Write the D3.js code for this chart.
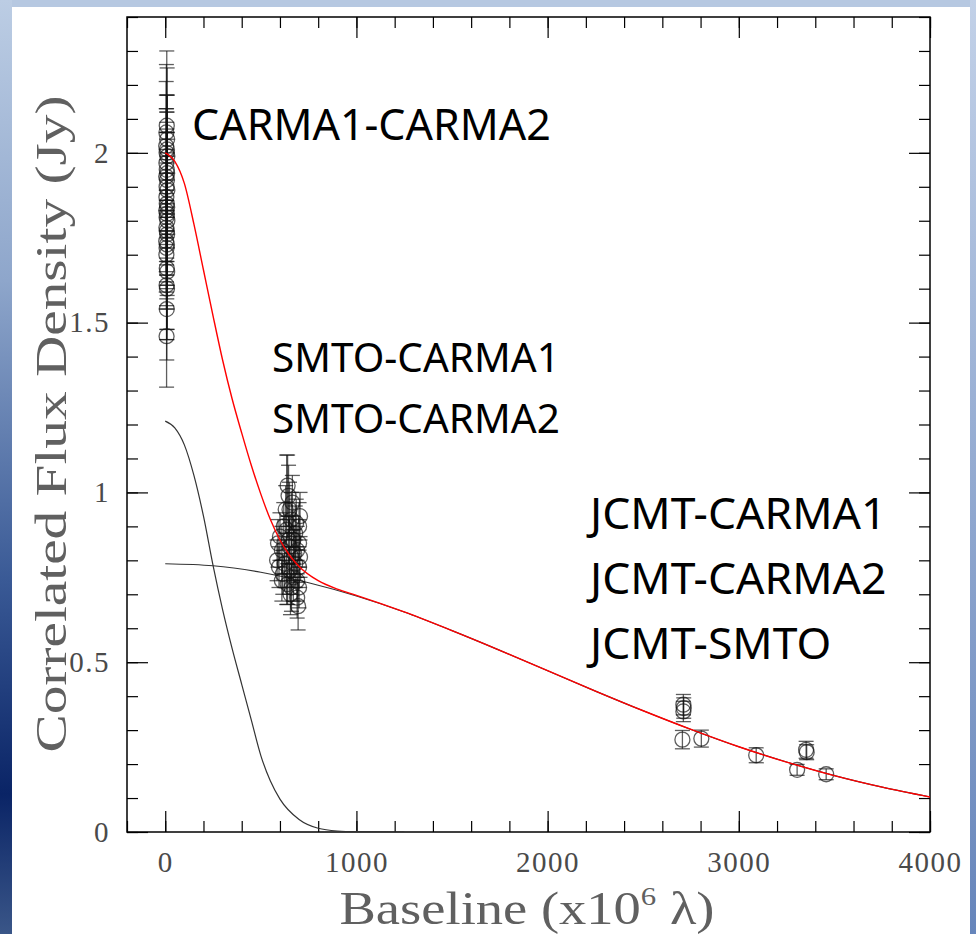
<!DOCTYPE html>
<html>
<head>
<meta charset="utf-8">
<script src="https://cdnjs.cloudflare.com/ajax/libs/d3/7.8.5/d3.min.js"></script>
<style>
body { margin: 0; background: #fff; }
.tick line { stroke: #000; stroke-width: 1.2; }
.tick text { fill: #4a4a4a; }
</style>
</head>
<body>
<svg width="976" height="934"></svg>
<script>
// tick labels
var xTicks = [0, 1000, 2000, 3000, 4000];
var yTicks = [0, 0.5, 1, 1.5, 2];
var yTickLabels = ["0", "0.5", "1", "1.5", "2"];

// visibilities: [baseline, flux, error]
var carmaPts = [
  [8,2.08,0.22],[6,2.06,0.20],[10,2.04,0.21],[5,2.02,0.19],[9,2.01,0.16],[7,2.00,0.12],
  [11,1.99,0.18],[6,1.97,0.20],[8,1.95,0.14],[10,1.94,0.18],[5,1.93,0.20],[9,1.92,0.15],
  [7,1.90,0.23],[11,1.89,0.17],[6,1.87,0.19],[8,1.85,0.21],[10,1.84,0.16],[5,1.83,0.18],
  [9,1.82,0.22],[7,1.81,0.17],[11,1.80,0.19],[6,1.78,0.16],[8,1.77,0.20],[10,1.76,0.18],
  [5,1.74,0.15],[9,1.73,0.19],[7,1.72,0.17],[6,1.70,0.16],[8,1.66,0.18],[10,1.65,0.17],
  [7,1.61,0.16],[9,1.60,0.15],[8,1.54,0.15],[7,1.46,0.15]
];
var smtoPts = [
  [640,1.02,0.09],[645,0.99,0.09],[650,0.95,0.08],[705,0.93,0.07],[700,0.90,0.07],
  [660,0.92,0.08],[620,0.90,0.07],[680,0.88,0.08],[600,0.87,0.07],[590,0.85,0.07],
  [670,0.86,0.07],[700,0.85,0.07],[650,0.84,0.08],[610,0.83,0.07],[690,0.83,0.07],
  [635,0.89,0.22],[585,0.80,0.06],[595,0.78,0.06],[660,0.81,0.07],[705,0.81,0.06],
  [625,0.79,0.07],[680,0.79,0.07],[650,0.77,0.07],[700,0.78,0.06],[615,0.76,0.06],
  [670,0.75,0.07],[690,0.74,0.06],[640,0.73,0.06],[660,0.72,0.07],[700,0.72,0.06],
  [690,0.69,0.06],[695,0.665,0.07],[655,0.70,0.06],[610,0.74,0.06],[675,0.82,0.07],
  [645,0.86,0.07],[685,0.91,0.07],[630,0.95,0.07],[665,0.97,0.08]
];
var jcmtPts = [
  [2710,0.375,0.03],[2710,0.355,0.03],[2712,0.365,0.03],[2705,0.272,0.027],
  [2804,0.275,0.025],[3091,0.226,0.022],[3305,0.183,0.016],[3352,0.242,0.025],
  [3355,0.235,0.022],[3457,0.17,0.016]
];

// model curves
var totalBase = [0,50,100,150,200,250,300,350,400,450,500,550,600,650,700,800,900,1000,1250,1500,1750,2000,2250,2500,2750,3000,3250,3500,3750,4000];
var totalFlux = [2.00,1.975,1.91,1.79,1.655,1.52,1.39,1.275,1.175,1.08,0.995,0.92,0.86,0.815,0.782,0.74,0.715,0.697,0.648,0.593,0.535,0.475,0.415,0.357,0.302,0.251,0.206,0.166,0.132,0.103];
var narrowBase = [0,50,100,150,200,250,300,350,400,450,500,550,600,700,800,900,1000,1250];
var narrowFlux = [1.21,1.19,1.14,1.05,0.93,0.785,0.655,0.54,0.435,0.33,0.225,0.15,0.097,0.037,0.011,0.003,0.001,0];
var broadBase = [0,250,500,750,1000,1250,1500,1750,2000,2250,2500,2750,3000,3250,3500,3750,4000];
var broadFlux = [0.79,0.784,0.765,0.734,0.695,0.648,0.593,0.535,0.475,0.415,0.357,0.302,0.251,0.206,0.166,0.132,0.103];

var labels = ["CARMA1-CARMA2", "SMTO-CARMA1", "SMTO-CARMA2", "JCMT-CARMA1", "JCMT-CARMA2", "JCMT-SMTO"];
var labelAt = [[192,140],[272,372],[272,433],[590,529],[590,594],[590,659]];
var labelSize = [43, 40.5, 40.5, 44.5, 44.5, 44.5];

var svg = d3.select("svg");
var defs = svg.append("defs");

// slide background
var lg = defs.append("linearGradient").attr("id", "leftGrad")
  .attr("x1", 0).attr("y1", 0).attr("x2", 0).attr("y2", 1);
lg.append("stop").attr("offset", "0%").attr("stop-color", "#bccde4");
lg.append("stop").attr("offset", "30%").attr("stop-color", "#8ea6cb");
lg.append("stop").attr("offset", "62%").attr("stop-color", "#3a5a96");
lg.append("stop").attr("offset", "85%").attr("stop-color", "#0a2466");
lg.append("stop").attr("offset", "100%").attr("stop-color", "#3a5688");
var rg = defs.append("linearGradient").attr("id", "rightGrad")
  .attr("x1", 0).attr("y1", 0).attr("x2", 0).attr("y2", 1);
rg.append("stop").attr("offset", "0%").attr("stop-color", "#c2d1e8");
rg.append("stop").attr("offset", "100%").attr("stop-color", "#6685bb");

svg.append("rect").attr("width", 976).attr("height", 934).attr("fill", "#b6c8e1");
svg.append("rect").attr("x", 0).attr("y", 0).attr("width", 12).attr("height", 934).attr("fill", "url(#leftGrad)");
svg.append("rect").attr("x", 970).attr("y", 0).attr("width", 6).attr("height", 934).attr("fill", "url(#rightGrad)");
svg.append("rect").attr("x", 12).attr("y", 7).attr("width", 958).attr("height", 927).attr("fill", "#fff");

var x = d3.scaleLinear().domain([-200, 4000]).range([127, 930]);
var y = d3.scaleLinear().domain([0, 2.4]).range([832, 17]);

defs.append("clipPath").attr("id", "frame")
  .append("rect").attr("x", 127).attr("y", 17).attr("width", 803).attr("height", 815);

// axes, ticks pointing in on all four sides
function addAxis(axis, tx, ty) {
  var g = svg.append("g")
    .attr("transform", "translate(" + tx + "," + ty + ")")
    .call(axis)
    .attr("font-family", "'Liberation Serif', serif")
    .attr("font-size", 29);
  g.select(".domain").remove();
  return g;
}
addAxis(d3.axisBottom(x).tickValues(x.ticks(21)).tickSize(-11).tickFormat(""), 0, 832);
addAxis(d3.axisBottom(x).tickValues(xTicks).tickSizeInner(-21).tickSizeOuter(0)
  .tickPadding(19).tickFormat(d3.format("d")), 0, 832)
  .selectAll("text").attr("letter-spacing", 1.5);
addAxis(d3.axisTop(x).tickValues(x.ticks(21)).tickSize(-11).tickFormat(""), 0, 17);
addAxis(d3.axisTop(x).tickValues(xTicks).tickSize(-21).tickFormat(""), 0, 17);

addAxis(d3.axisLeft(y).tickValues(y.ticks(24)).tickSize(-11).tickFormat(""), 127, 0);
addAxis(d3.axisLeft(y).tickValues(yTicks).tickSizeInner(-21).tickSizeOuter(0)
  .tickPadding(17).tickFormat(function(d, i) { return yTickLabels[i]; }), 127, 0)
  .selectAll("text").attr("letter-spacing", 1.5);
addAxis(d3.axisRight(y).tickValues(y.ticks(24)).tickSize(-11).tickFormat(""), 930, 0);
addAxis(d3.axisRight(y).tickValues(yTicks).tickSize(-21).tickFormat(""), 930, 0);

svg.append("rect")
  .attr("x", 127).attr("y", 17).attr("width", 803).attr("height", 815)
  .attr("fill", "none").attr("stroke", "#000").attr("stroke-width", 1.5);

var plot = svg.append("g").attr("clip-path", "url(#frame)");

// model components
var line = d3.line()
  .x(function(d) { return x(d[0]); })
  .y(function(d) { return y(d[1]); })
  .curve(d3.curveMonotoneX);

plot.append("path")
  .datum(narrowBase.map(function(b, i) { return [b, narrowFlux[i]]; }))
  .attr("d", line).attr("fill", "none").attr("stroke", "#333").attr("stroke-width", 1.2);
plot.append("path")
  .datum(broadBase.map(function(b, i) { return [b, broadFlux[i]]; }))
  .attr("d", line).attr("fill", "none").attr("stroke", "#333").attr("stroke-width", 1.2);

// data points with error bars
function drawPts(pts) {
  var g = plot.append("g").selectAll("g").data(pts).enter().append("g")
    .attr("stroke", "#111").attr("stroke-opacity", 0.68).attr("fill", "none").attr("stroke-width", 1.3);
  g.append("line")
    .attr("x1", function(d) { return x(d[0]); }).attr("x2", function(d) { return x(d[0]); })
    .attr("y1", function(d) { return y(d[1] - d[2]); }).attr("y2", function(d) { return y(d[1] + d[2]); });
  g.append("line")
    .attr("x1", function(d) { return x(d[0]) - 7.5; }).attr("x2", function(d) { return x(d[0]) + 7.5; })
    .attr("y1", function(d) { return y(d[1] + d[2]); }).attr("y2", function(d) { return y(d[1] + d[2]); });
  g.append("line")
    .attr("x1", function(d) { return x(d[0]) - 7.5; }).attr("x2", function(d) { return x(d[0]) + 7.5; })
    .attr("y1", function(d) { return y(d[1] - d[2]); }).attr("y2", function(d) { return y(d[1] - d[2]); });
  g.append("circle")
    .attr("cx", function(d) { return x(d[0]); })
    .attr("cy", function(d) { return y(d[1]); })
    .attr("r", 7.5);
}
drawPts(carmaPts);
drawPts(smtoPts);
drawPts(jcmtPts);

// total model
plot.append("path")
  .datum(totalBase.map(function(b, i) { return [b, totalFlux[i]]; }))
  .attr("d", line).attr("fill", "none").attr("stroke", "#f00").attr("stroke-width", 1.4);

// axis titles
svg.append("text")
  .attr("x", 527).attr("y", 924)
  .attr("text-anchor", "middle")
  .attr("font-family", "'Liberation Serif', serif")
  .attr("font-size", 46)
  .attr("fill", "#606060")
  .attr("textLength", 375)
  .attr("lengthAdjust", "spacingAndGlyphs")
  .html("Baseline (x10<tspan dy='-19' font-size='26'>6</tspan><tspan dy='19'> λ)</tspan>");

svg.append("text")
  .attr("transform", "translate(66,424) rotate(-90)")
  .attr("text-anchor", "middle")
  .attr("font-family", "'Liberation Serif', serif")
  .attr("font-size", 44)
  .attr("fill", "#606060")
  .attr("textLength", 657)
  .attr("lengthAdjust", "spacingAndGlyphs")
  .text("Correlated Flux Density (Jy)");

// baseline labels
svg.selectAll(".blabel").data(labels).enter().append("text")
  .attr("class", "blabel")
  .attr("x", function(d, i) { return labelAt[i][0]; })
  .attr("y", function(d, i) { return labelAt[i][1]; })
  .attr("font-family", "'Noto Sans', sans-serif")
  .attr("font-size", function(d, i) { return labelSize[i]; })
  .attr("fill", "#000")
  .text(function(d) { return d; });
</script>
</body>
</html>
